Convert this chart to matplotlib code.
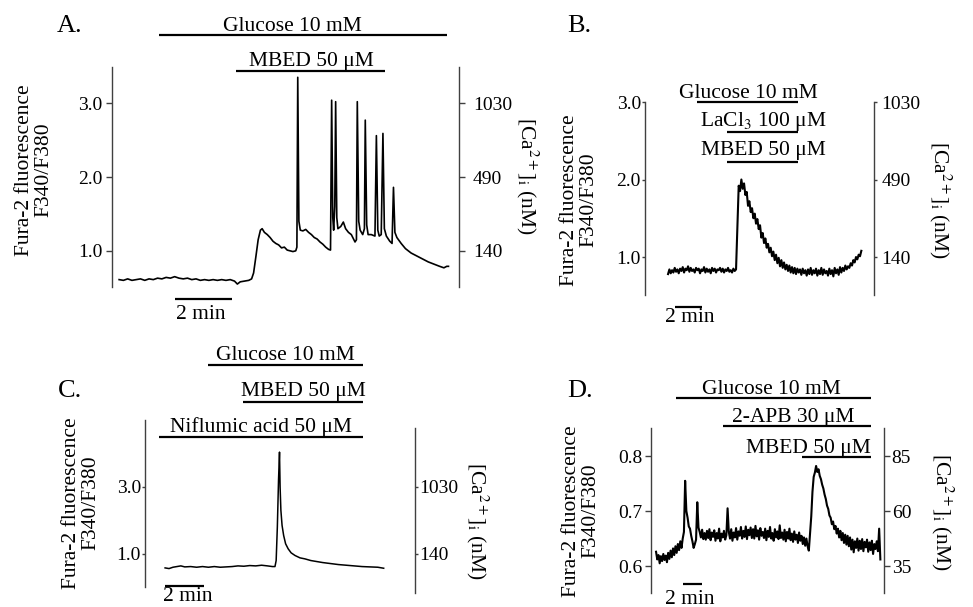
import numpy as np
import matplotlib

matplotlib.use("Agg")
import matplotlib.pyplot as plt

W, H = 973, 607
plt.rcParams["font.family"] = ["Liberation Serif", "DejaVu Serif"]
plt.rcParams["mathtext.fontset"] = "stix"

# ============================================================
# data (time in min, Fura-2 ratio F340/F380)
# ============================================================
# A: glucose + MBED, spiking trace
a_time = [0.00, 0.15, 0.30, 0.45, 0.60, 0.75, 0.90, 1.05, 1.20, 1.35, 1.50, 1.65,
          1.80, 1.95, 2.10, 2.25, 2.40, 2.55, 2.70, 2.85, 3.00, 3.15, 3.30, 3.45,
          3.60, 3.75, 3.90, 4.05, 4.15, 4.25, 4.40, 4.55, 4.65, 4.72, 4.80, 4.88,
          4.96, 5.02, 5.10, 5.20, 5.30, 5.40, 5.50, 5.60, 5.70, 5.80, 5.90, 6.00,
          6.10, 6.20, 6.24, 6.27, 6.31, 6.36, 6.45, 6.55, 6.65, 6.75, 6.85, 6.95,
          7.05, 7.15, 7.25, 7.35, 7.42, 7.46, 7.50, 7.53, 7.57, 7.60, 7.64, 7.68,
          7.78, 7.87, 7.95, 8.05, 8.15, 8.28, 8.33, 8.36, 8.41, 8.46, 8.55, 8.61,
          8.64, 8.69, 8.74, 8.85, 8.98, 9.03, 9.08, 9.13, 9.20, 9.26, 9.31, 9.38,
          9.50, 9.58, 9.63, 9.68, 9.75, 9.90, 10.05, 10.25, 10.45, 10.65, 10.85,
          11.05, 11.25, 11.40, 11.50, 11.56]
a_ratio = [0.61, 0.60, 0.62, 0.60, 0.61, 0.62, 0.60, 0.62, 0.61, 0.63, 0.62, 0.64,
           0.63, 0.65, 0.63, 0.62, 0.63, 0.61, 0.62, 0.60, 0.61, 0.60, 0.61, 0.60,
           0.61, 0.60, 0.61, 0.59, 0.55, 0.58, 0.59, 0.60, 0.62, 0.70, 0.92, 1.15,
           1.28, 1.30, 1.25, 1.22, 1.18, 1.13, 1.10, 1.08, 1.04, 1.05, 1.01, 1.00,
           0.99, 1.00, 1.05, 3.35, 1.40, 1.28, 1.27, 1.29, 1.25, 1.22, 1.18, 1.16,
           1.12, 1.09, 1.05, 1.02, 1.01, 3.04, 1.45, 1.28, 1.60, 3.02, 1.45, 1.30,
           1.33, 1.39, 1.30, 1.25, 1.22, 1.12, 1.15, 3.02, 1.40, 1.28, 1.22, 1.30,
           2.77, 1.35, 1.22, 1.22, 1.20, 2.56, 1.28, 1.20, 1.22, 2.59, 1.30, 1.20,
           1.13, 1.10, 1.86, 1.25, 1.18, 1.10, 1.03, 0.97, 0.93, 0.89, 0.85,
           0.82, 0.79, 0.77, 0.79, 0.79]

# B: glucose + LaCl3 + MBED, sampled every 0.1 min
b_dt = 0.1
b_ratio = [0.78, 0.84, 0.79, 0.83, 0.80, 0.86, 0.81, 0.84, 0.79, 0.85,
           0.82, 0.87, 0.80, 0.85, 0.83, 0.88, 0.81, 0.86, 0.82, 0.84,
           0.80, 0.86, 0.83, 0.85, 0.79, 0.84, 0.82, 0.87, 0.80, 0.85,
           0.81, 0.84, 0.79, 0.86, 0.82, 0.85, 0.80, 0.84, 0.83, 0.86,
           0.81, 0.85, 0.80, 0.84, 0.82, 0.86, 0.81, 0.83, 0.80, 0.85,
           0.82, 0.84,
           1.40, 1.92, 1.85, 2.00, 1.88, 1.95, 1.80, 1.84,
           1.66, 1.72, 1.58, 1.63, 1.50, 1.56, 1.43, 1.49, 1.36, 1.41,
           1.25, 1.31, 1.18, 1.24, 1.12, 1.17, 1.06, 1.12, 1.01, 1.07,
           0.96, 1.03, 0.92, 0.99, 0.88, 0.96, 0.86, 0.93, 0.84, 0.90,
           0.82, 0.89, 0.80, 0.87, 0.79, 0.86, 0.78, 0.85, 0.80, 0.84,
           0.77, 0.85, 0.79, 0.83, 0.76, 0.84, 0.78, 0.86, 0.77, 0.83,
           0.79, 0.85, 0.76, 0.83, 0.78, 0.86, 0.77, 0.84, 0.79, 0.82,
           0.76, 0.85, 0.78, 0.83, 0.75, 0.86, 0.79, 0.84, 0.77, 0.87,
           0.80, 0.86, 0.82, 0.89, 0.84, 0.88, 0.86, 0.92, 0.89, 0.96,
           0.93, 1.00, 0.97, 1.03, 1.01, 1.08]

# C: niflumic acid + glucose + MBED
c_time = [0.00, 0.20, 0.40, 0.60, 0.80, 1.00, 1.30, 1.60, 1.90, 2.20, 2.50, 2.80,
          3.10, 3.40, 3.70, 4.00, 4.30, 4.60, 4.90, 5.20, 5.45, 5.58, 5.64, 5.70,
          5.76, 5.81, 5.84, 5.88, 5.94, 6.02, 6.12, 6.25, 6.40, 6.60, 6.85, 7.10,
          7.40, 7.70, 8.00, 8.40, 8.80, 9.20, 9.60, 10.00, 10.40, 10.80, 11.10]
c_ratio = [0.58, 0.56, 0.60, 0.62, 0.64, 0.61, 0.62, 0.60, 0.62, 0.60, 0.62, 0.60,
           0.61, 0.62, 0.64, 0.63, 0.65, 0.64, 0.66, 0.64, 0.62, 0.62, 0.80, 1.80,
           3.20, 4.04, 3.00, 2.30, 1.85, 1.55, 1.30, 1.15, 1.03, 0.95, 0.88, 0.85,
           0.80, 0.77, 0.74, 0.71, 0.68, 0.66, 0.64, 0.62, 0.61, 0.60, 0.57]

# D: glucose + 2-APB + MBED, sampled every 0.125 min
d_dt = 0.125
d_ratio = [0.626, 0.612, 0.620, 0.605, 0.618, 0.609, 0.622, 0.611,
           0.619, 0.607, 0.624, 0.613, 0.628, 0.616, 0.632, 0.620,
           0.636, 0.624, 0.640, 0.629, 0.645, 0.633, 0.650, 0.662,
           0.755, 0.700, 0.688, 0.672, 0.668, 0.655, 0.645, 0.633,
           0.640, 0.648, 0.716, 0.670, 0.662, 0.652, 0.666, 0.649,
           0.660, 0.648, 0.664, 0.651, 0.667, 0.647, 0.661, 0.653,
           0.665, 0.646, 0.660, 0.650, 0.668, 0.645, 0.659, 0.652,
           0.664, 0.648, 0.656, 0.705, 0.662, 0.650, 0.667, 0.646,
           0.661, 0.652, 0.669, 0.648, 0.663, 0.655, 0.671, 0.650,
           0.664, 0.653, 0.672, 0.649, 0.666, 0.656, 0.670, 0.651,
           0.667, 0.650, 0.673, 0.654, 0.665, 0.648, 0.669, 0.655,
           0.662, 0.651, 0.668, 0.647, 0.664, 0.653, 0.671, 0.650,
           0.660, 0.646, 0.667, 0.652, 0.663, 0.649, 0.674, 0.651,
           0.661, 0.648, 0.666, 0.645, 0.662, 0.650, 0.668, 0.647,
           0.659, 0.644, 0.663, 0.648, 0.657, 0.642, 0.661, 0.646,
           0.655, 0.640, 0.652, 0.637, 0.650, 0.636, 0.628, 0.660,
           0.690, 0.735, 0.762, 0.770, 0.782, 0.771, 0.776, 0.764,
           0.758, 0.748, 0.741, 0.730, 0.722, 0.710, 0.704, 0.692,
           0.688, 0.676, 0.681, 0.667, 0.673, 0.659, 0.668, 0.652,
           0.664, 0.647, 0.660, 0.642, 0.657, 0.639, 0.655, 0.636,
           0.652, 0.630, 0.648, 0.625, 0.645, 0.633, 0.650, 0.628,
           0.646, 0.631, 0.649, 0.627, 0.644, 0.634, 0.648, 0.626,
           0.643, 0.629, 0.646, 0.622, 0.640, 0.631, 0.645, 0.627,
           0.668, 0.612]

# ticks: left ratio value, right [Ca2+]i label
a_ticks, a_left, a_right = [1.0, 2.0, 3.0], ["1.0", "2.0", "3.0"], ["140", "490", "1030"]
b_ticks, b_left, b_right = [1.0, 2.0, 3.0], ["1.0", "2.0", "3.0"], ["140", "490", "1030"]
c_ticks, c_left, c_right = [1.0, 3.0], ["1.0", "3.0"], ["140", "1030"]
d_ticks, d_left, d_right = [0.6, 0.7, 0.8], ["0.6", "0.7", "0.8"], ["35", "60", "85"]

# drug application periods (label, start min, end min)
a_drugs = [("Glucose 10 mM", 1.40, 11.51), ("MBED 50 μM", 4.11, 9.33)]
b_drugs = [("Glucose 10 mM", 2.18, 9.75), ("LaCl$_3$ 100 μM", 4.43, 9.75),
           ("MBED 50 μM", 4.43, 9.75)]
c_drugs = [("Glucose 10 mM", 2.18, 10.05), ("MBED 50 μM", 3.96, 10.05),
           ("Niflumic acid 50 μM", -0.30, 10.05)]
d_drugs = [("Glucose 10 mM", 2.06, 22.16), ("2-APB 30 μM", 6.91, 22.16),
           ("MBED 50 μM", 15.05, 22.16)]

b_time = np.arange(len(b_ratio)) * b_dt
d_time = np.arange(len(d_ratio)) * d_dt

# ============================================================
# drawing
# ============================================================
SPINE = "#404040"
FS = 15.5
TICK_FS = 14

fig = plt.figure(figsize=(W / 100, H / 100), dpi=100)


def add_axes(x0, y0, x1, y1):
    return fig.add_axes([x0 / W, 1 - y1 / H, (x1 - x0) / W, (y1 - y0) / H])


def setup(ax, xlim, ylim, ticks, left, right, lpad, rpad, tlen, lb=None, rb=None):
    ax.set_xlim(*xlim)
    ax.set_ylim(*ylim)
    ax.patch.set_alpha(0)
    ax.xaxis.set_visible(False)
    for s in ("top", "bottom", "right"):
        ax.spines[s].set_visible(False)
    ax.spines["left"].set_color(SPINE)
    ax.spines["left"].set_linewidth(1.0)
    if lb:
        ax.spines["left"].set_bounds(*lb)
    ax.set_yticks(ticks)
    ax.set_yticklabels(left, fontsize=TICK_FS)
    ax.tick_params(axis="y", direction="out", length=tlen, width=1.0,
                   color=SPINE, pad=lpad)
    tw = ax.twinx()
    tw.set_ylim(*ylim)
    for s in ("top", "bottom", "left"):
        tw.spines[s].set_visible(False)
    tw.spines["right"].set_color(SPINE)
    tw.spines["right"].set_linewidth(1.0)
    if rb:
        tw.spines["right"].set_bounds(*rb)
    tw.set_yticks(ticks)
    tw.set_yticklabels(right, fontsize=TICK_FS)
    tw.tick_params(axis="y", direction="out", length=tlen, width=1.0,
                   color=SPINE, pad=rpad)
    tw.xaxis.set_visible(False)


def drug_bar(ax, drug, y, xt, ha="center", off=3.5):
    label, t0, t1 = drug
    ax.plot([t0, t1], [y, y], color="black", lw=1.6, clip_on=False,
            solid_capstyle="butt")
    ax.annotate(label, xy=(xt, y), xytext=(0, off), textcoords="offset points",
                ha=ha, va="baseline", fontsize=FS, annotation_clip=False)


def scale_bar(ax, t0, y, tx, ty, va="top"):
    ax.plot([t0, t0 + 2], [y, y], color="black", lw=1.6, clip_on=False,
            solid_capstyle="butt")
    ax.text(tx, ty, "2 min", ha="left", va=va, fontsize=FS, clip_on=False)


def labels(xl, yl, xr, yr):
    fig.text(xl / W, 1 - yl / H, "Fura-2 fluorescence\nF340/F380", rotation=90,
             ha="center", va="center", fontsize=FS, multialignment="center",
             linespacing=1.05)
    fig.text(xr / W, 1 - yr / H, r"[Ca$^{2+}$]$_\mathrm{i}$ (nM)", rotation=-90,
             ha="center", va="center", fontsize=FS)


def letter(x, y, s):
    fig.text(x / W, 1 - y / H, s, ha="left", va="baseline", fontsize=19)


# ---- A ----
axA = add_axes(112, 67, 459, 287)
setup(axA, (-0.25, 11.93), (0.51, 3.49), a_ticks, a_left, a_right, 3, 6, 4)
axA.plot(a_time, a_ratio, color="black", lw=1.2)
drug_bar(axA, a_drugs[0], 3.93, 6.07, off=2.5)
drug_bar(axA, a_drugs[1], 3.43, 6.74, off=4)
scale_bar(axA, 1.96, 0.35, 2.0, 0.27)
labels(34, 170, 527, 176)
letter(57, 32, "A.")

# ---- B ----
axB = add_axes(645, 102, 874, 295)
setup(axB, (-1.73, 15.45), (0.51, 3.0), b_ticks, b_left, b_right, 0.5, 3, 2.5)
axB.plot(b_time, b_ratio, color="black", lw=1.5)
drug_bar(axB, b_drugs[0], 3.0, 6.0, off=3)
drug_bar(axB, b_drugs[1], 2.61, 7.13, off=4.5)
drug_bar(axB, b_drugs[2], 2.23, 7.13, off=4.5)
scale_bar(axB, 0.53, 0.36, -0.23, 0.34)
labels(579, 200, 940, 200)
letter(567, 32, "B.")

# ---- C ----
axC = add_axes(145, 420, 415, 593)
setup(axC, (-1.02, 12.69), (-0.17, 5.0), c_ticks, c_left, c_right, 0.5, 0.5, 2.5,
      lb=(0.01, 5.0), rb=(-0.16, 4.76))
axC.plot(c_time, c_ratio, color="black", lw=1.1)
drug_bar(axC, c_drugs[0], 6.64, 6.09, off=3.5)
drug_bar(axC, c_drugs[1], 5.54, 7.0, off=4)
drug_bar(axC, c_drugs[2], 4.49, 4.87, off=4)
scale_bar(axC, 0.0, 0.045, -0.1, -0.42, va="baseline")
labels(81, 503, 477, 521)
letter(58, 397, "C.")

# ---- D ----
axD = add_axes(651, 428, 884, 593)
setup(axD, (-0.52, 23.5), (0.551, 0.851), d_ticks, d_left, d_right, 2, 1.5, 4)
axD.plot(d_time, d_ratio, color="black", lw=1.5)
drug_bar(axD, d_drugs[0], 0.905, 11.86, off=3)
drug_bar(axD, d_drugs[1], 0.855, 14.12, off=3)
drug_bar(axD, d_drugs[2], 0.798, 22.16, ha="right", off=3)
scale_bar(axD, 2.78, 0.567, 0.93, 0.557)
labels(581, 511, 942, 512)
letter(567, 397, "D.")

fig.savefig("out.png", dpi=100)
